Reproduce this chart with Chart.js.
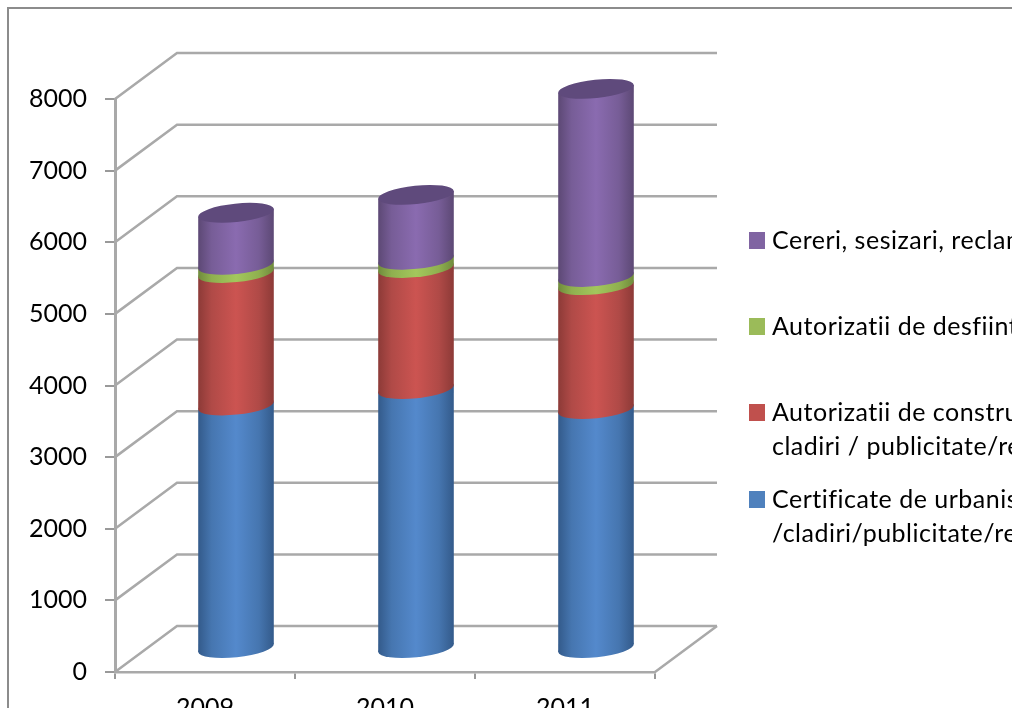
<!DOCTYPE html>
<html>
<head>
<meta charset="utf-8">
<title>Chart</title>
<style>
  html, body { margin: 0; padding: 0; background: #fff; }
  #myChart { display: block; filter: blur(0.5px); }
</style>
<script src="https://cdn.jsdelivr.net/npm/chart.js@4/dist/chart.umd.min.js"></script>
</head>
<body>
<canvas id="myChart" width="1012" height="708"></canvas>
<script>
// chart values
var years = ["2009", "2010", "2011"];
var certificate = [3400, 3630, 3350];
var constructie = [1850, 1690, 1730];
var desfiintare = [115, 115, 115];
var cereri = [725, 905, 2625];

var legendCertificate = ["Certificate de urbanism", "/cladiri/publicitate/retele"];
var legendConstructie = ["Autorizatii de construire /", "cladiri / publicitate/retele"];
var legendDesfiintare = ["Autorizatii de desfiintare"];
var legendCereri = ["Cereri, sesizari, reclamatii"];

var FONT = "Lato, Carlito, sans-serif";
var GRID = "#a9a9a9";
var DEPTH_X = 62, DEPTH_Y = 46;
var BAR_W = 76, CAP_RY = 9.2, TILT = -6 * Math.PI / 180;

// edge, mid, centre colours of the fake cylinder
var shades = [
  { flat: "#4f81bd", edge: "#335a8a", mid: "#4676b0", center: "#5489cc", cap: "#4672a8" },
  { flat: "#c0504d", edge: "#8c3a37", mid: "#b04a47", center: "#cc5451", cap: "#a84542" },
  { flat: "#9bbb59", edge: "#6f8a3c", mid: "#8fb04f", center: "#a3c75c", cap: "#8aa84e" },
  { flat: "#8064a2", edge: "#5c4874", mid: "#775d97", center: "#8a6bb0", cap: "#5f4a7c" }
];

function barGradient(ctx, cx, s) {
  var g = ctx.createLinearGradient(cx - BAR_W / 2, 0, cx + BAR_W / 2, 0);
  g.addColorStop(0, s.edge);
  g.addColorStop(0.18, s.mid);
  g.addColorStop(0.5, s.center);
  g.addColorStop(0.8, s.mid);
  g.addColorStop(1, s.edge);
  return g;
}

function fillFor(i) {
  return function (c) {
    var x = c.chart.scales.x ? c.chart.scales.x.getPixelForValue(c.dataIndex) : NaN;
    if (!isFinite(x)) return shades[i].flat;
    return barGradient(c.chart.ctx, x, shades[i]);
  };
}

// the 3D wall, floor, the round bar ends and the legend
var scene = {
  id: "scene",
  beforeDraw: function (chart) {
    var ctx = chart.ctx;
    ctx.save();
    ctx.strokeStyle = "#8c8c8c";
    ctx.lineWidth = 2;
    ctx.beginPath();
    ctx.moveTo(8, 708);
    ctx.lineTo(8, 8);
    ctx.lineTo(1012, 8);
    ctx.stroke();
    ctx.restore();
  },
  beforeDatasetsDraw: function (chart) {
    var ctx = chart.ctx, a = chart.chartArea, y = chart.scales.y;
    ctx.save();
    ctx.strokeStyle = GRID;
    ctx.lineWidth = 2.5;
    y.ticks.forEach(function (t) {
      var py = y.getPixelForValue(t.value);
      ctx.beginPath();
      ctx.moveTo(a.left, py);
      ctx.lineTo(a.left + DEPTH_X, py - DEPTH_Y);
      ctx.lineTo(a.right + DEPTH_X, py - DEPTH_Y);
      ctx.stroke();
    });
    ctx.beginPath();
    ctx.moveTo(a.right, a.bottom);
    ctx.lineTo(a.right + DEPTH_X, a.bottom - DEPTH_Y);
    ctx.stroke();
    ctx.restore();
    // bars stand in the middle of the floor
    ctx.save();
    ctx.translate(DEPTH_X / 2, -DEPTH_Y / 2);
  },
  afterDatasetsDraw: function (chart) {
    var ctx = chart.ctx;
    var dx = Math.cos(TILT) * BAR_W / 2, dy = Math.sin(TILT) * BAR_W / 2;
    chart.data.datasets.forEach(function (ds, i) {
      chart.getDatasetMeta(i).data.forEach(function (bar) {
        ctx.fillStyle = barGradient(ctx, bar.x, shades[i]);
        ctx.beginPath();
        ctx.ellipse(bar.x, bar.base, BAR_W / 2, CAP_RY, TILT, 0, Math.PI * 2);
        ctx.fill();
        ctx.beginPath();
        ctx.moveTo(bar.x - dx, bar.base - dy);
        ctx.lineTo(bar.x + dx, bar.base + dy);
        ctx.lineTo(bar.x + dx, bar.y + dy);
        ctx.lineTo(bar.x - dx, bar.y - dy);
        ctx.closePath();
        ctx.fill();
        if (i == chart.data.datasets.length - 1) {
          ctx.fillStyle = shades[i].cap;
          ctx.beginPath();
          ctx.ellipse(bar.x, bar.y, BAR_W / 2, CAP_RY, TILT, 0, Math.PI * 2);
          ctx.fill();
        }
      });
    });
    ctx.restore();
  },
  afterDraw: function (chart) {
    var ctx = chart.ctx;
    var top = [491, 404, 318, 232];
    ctx.save();
    ctx.font = "25px " + FONT;
    ctx.letterSpacing = "0.5px";
    ctx.textBaseline = "middle";
    chart.data.datasets.forEach(function (ds, i) {
      ctx.fillStyle = shades[i].flat;
      ctx.fillRect(749, top[i], 16, 17);
      ctx.fillStyle = "#000";
      ds.legendLines.forEach(function (line, n) {
        ctx.fillText(line, 772, top[i] + 9 + n * 34);
      });
    });
    ctx.restore();
  }
};

var ctx = document.querySelector("#myChart").getContext("2d");
var stackChart = new Chart(ctx, {
  type: "bar",
  data: {
    labels: years,
    datasets: [
      { label: legendCertificate.join(" "), legendLines: legendCertificate, data: certificate, backgroundColor: fillFor(0) },
      { label: legendConstructie.join(" "), legendLines: legendConstructie, data: constructie, backgroundColor: fillFor(1) },
      { label: legendDesfiintare.join(" "), legendLines: legendDesfiintare, data: desfiintare, backgroundColor: fillFor(2) },
      { label: legendCereri.join(" "), legendLines: legendCereri, data: cereri, backgroundColor: fillFor(3) }
    ]
  },
  options: {
    responsive: false,
    animation: false,
    barThickness: BAR_W - 16,
    layout: { padding: { top: 99, right: 357, left: 0, bottom: 0 } },
    plugins: { legend: { display: false }, tooltip: { enabled: false } },
    scales: {
      x: {
        stacked: true,
        afterFit: function (s) { s.height = 36; },
        grid: { drawOnChartArea: false, color: "#999", lineWidth: 2, tickLength: 7 },
        border: { color: GRID, width: 2.5 },
        ticks: { color: "#000", padding: 14, maxRotation: 0, font: { family: FONT, size: 25 } }
      },
      y: {
        stacked: true,
        min: 0,
        max: 8000,
        afterFit: function (s) { s.width = 115; },
        grid: { drawOnChartArea: false, color: "#999", lineWidth: 2, tickLength: 10 },
        border: { color: GRID, width: 3 },
        ticks: {
          color: "#000",
          stepSize: 1000,
          padding: 18,
          font: { family: FONT, size: 25 },
          callback: function (v) { return String(v); }
        }
      }
    }
  },
  plugins: [scene]
});
</script>
</body>
</html>
